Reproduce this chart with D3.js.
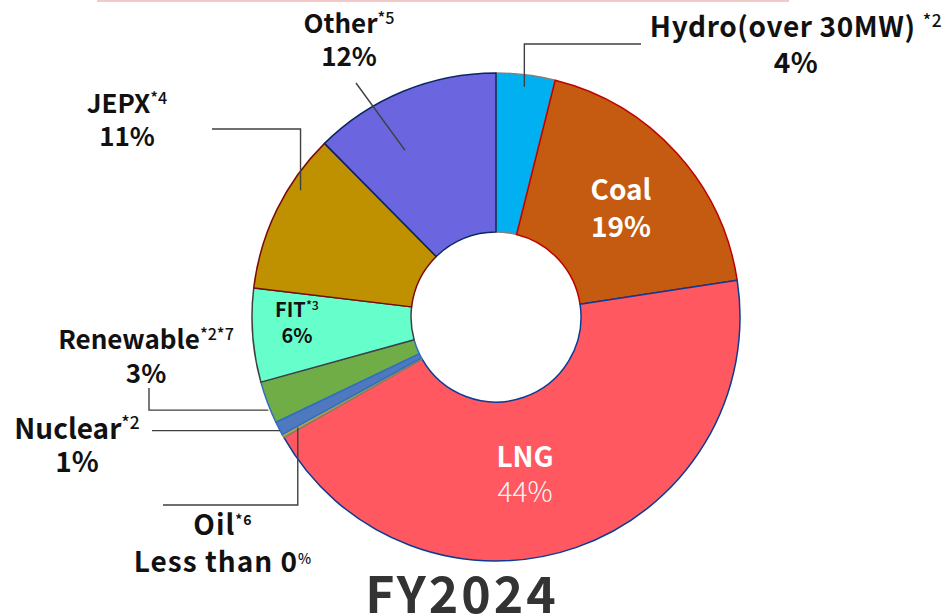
<!DOCTYPE html>
<html><head><meta charset="utf-8">
<script src="https://cdn.jsdelivr.net/npm/d3@7"></script>
<style>
html,body{margin:0;padding:0;background:#fff;}
svg{display:block;}
text{font-family:"Noto Sans CJK JP","Noto Sans",sans-serif;}
</style></head>
<body>
<svg id="chart" width="948" height="616"></svg>
<script>
// ---- data ----
const categories = ["Hydro", "Coal", "LNG", "Oil", "Nuclear", "Renewable", "FIT", "JEPX", "Other"];
const values = [3.9, 18.7, 44.2, 0.2, 0.9, 2.8, 6.2, 10.7, 12.4];
const percentLabels = ["4%", "19%", "44%", "Less than 0", "1%", "3%", "6%", "11%", "12%"];
const nameLabels = ["Hydro(over 30MW) ", "Coal", "LNG", "Oil", "Nuclear", "Renewable", "FIT", "JEPX", "Other"];
const notes = ["*2", "", "", "*6", "*2", "*2*7", "*3", "*4", "*5"];
const fills = ["#00B0F0", "#C55A11", "#FF5861", "#C9A64F", "#4F78BE", "#70AD47", "#66FFCC", "#BF9000", "#6B66E0"];
const strokes = ["#808080", "#C00000", "#0A3C96", "#8A8A5A", "#2E6FC0", "#2E6FC0", "#404040", "#7A0A0A", "#0A2860"];
const title = "FY2024";

// ---- layout ----
const W = 948, H = 616;
const cx = 496, cy = 317, R = 244, r0 = 85;
const svg = d3.select("#chart");

// top pink rule
svg.append("line").attr("x1", 97).attr("x2", 789).attr("y1", 1).attr("y2", 1)
  .attr("stroke", "#F6C9C9").attr("stroke-width", 2);

const g = svg.append("g").attr("transform", `translate(${cx},${cy})`);
const pie = d3.pie().sort(null).value(d => d).startAngle(0).endAngle(2 * Math.PI);
const arcs = pie(values);
const arc = d3.arc().innerRadius(r0).outerRadius(R);

g.selectAll("path.slice").data(arcs).join("path")
  .attr("class", "slice")
  .attr("d", arc)
  .attr("fill", (d, i) => fills[i])
  .attr("stroke", (d, i) => strokes[i])
  .attr("stroke-width", 1.5)
  .attr("stroke-linejoin", "round");

// leader lines, anchored on slice mid-angles (with small angular nudges)
function polar(a, rr) { return [cx + rr * Math.sin(a), cy - rr * Math.cos(a)]; }
function mid(i) { return (arcs[i].startAngle + arcs[i].endAngle) / 2; }
const leaderSpec = [
  { i: 0, rr: 232, da: 0, path: p => [p, [p[0], 44], [641, 44]] },
  { i: 7, rr: 233, da: 0.12, path: p => [p, [p[0], 129], [212, 129]] },
  { i: 8, rr: 190, da: -0.11, path: p => [p, [356, 83]] },
  { i: 5, rr: 246, da: -0.03, path: p => [p, [149, p[1]], [149, 388]] },
  { i: 4, rr: 244, da: -0.01, path: p => [p, [152, p[1]]] },
  { i: 3, rr: 227, da: 0, path: p => [p, [p[0], 505], [163, 505]] }
];
const line = d3.line();
svg.selectAll("path.leader").data(leaderSpec).join("path")
  .attr("class", "leader")
  .attr("d", s => line(s.path(polar(mid(s.i) + s.da, s.rr))))
  .attr("fill", "none").attr("stroke", "#404040").attr("stroke-width", 1.4);

// labels (two lines in one text element)
const labelSpec = [
  { i: 0, x: 796, y1: 37, y2: 73, fs: 28, ls: 0.6, color: "#111" },
  { i: 1, x: 621, y1: 200, y2: 237, fs: 28, ls: 0, color: "#fff" },
  { i: 2, x: 525, y1: 467, y2: 502, fs: 28, ls: 0, color: "#fff", light: true },
  { i: 3, x: 223, y1: 535, y2: 572, fs: 28, ls: 1, color: "#111" },
  { i: 4, x: 77, y1: 439, y2: 472, fs: 28, ls: 0, color: "#111" },
  { i: 5, x: 146, y1: 349, y2: 383, fs: 26, ls: 0, color: "#111" },
  { i: 6, x: 297, y1: 317, y2: 343, fs: 20, ls: 0, color: "#111" },
  { i: 7, x: 127, y1: 113, y2: 146, fs: 26, ls: 0, color: "#111" },
  { i: 8, x: 349, y1: 33, y2: 66, fs: 26, ls: 0, color: "#111" }
];
labelSpec.forEach(s => {
  const t = svg.append("text").attr("x", s.x).attr("y", s.y1)
    .attr("text-anchor", "middle").attr("fill", s.color)
    .attr("font-size", s.fs).attr("font-weight", 700)
    .attr("letter-spacing", s.ls);
  const l1 = t.append("tspan").attr("x", s.x).attr("y", s.y1);
  l1.append("tspan").text(nameLabels[s.i]);
  if (notes[s.i]) {
    l1.append("tspan").attr("font-size", s.fs * (s.i === 3 ? 0.5 : 0.62))
      .attr("font-weight", s.i === 3 ? 700 : 500)
      .attr("dy", -s.fs * 0.35).text(notes[s.i]);
  }
  const l2 = t.append("tspan").attr("x", s.x).attr("y", s.y2)
    .attr("fill", s.light ? "#F4F4F4" : s.color)
    .attr("font-weight", s.light ? 300 : 700);
  l2.append("tspan").text(percentLabels[s.i]);
  if (s.i === 3) {
    l2.append("tspan").attr("font-size", 14).attr("font-weight", 500).attr("dy", -8).text("%");
  }
});

// title
svg.append("text").attr("x", 462).attr("y", 613).attr("text-anchor", "middle")
  .attr("font-size", 50).attr("font-weight", 700).attr("fill", "#333")
  .attr("letter-spacing", 3)
  .text(title);
</script>
</body></html>
